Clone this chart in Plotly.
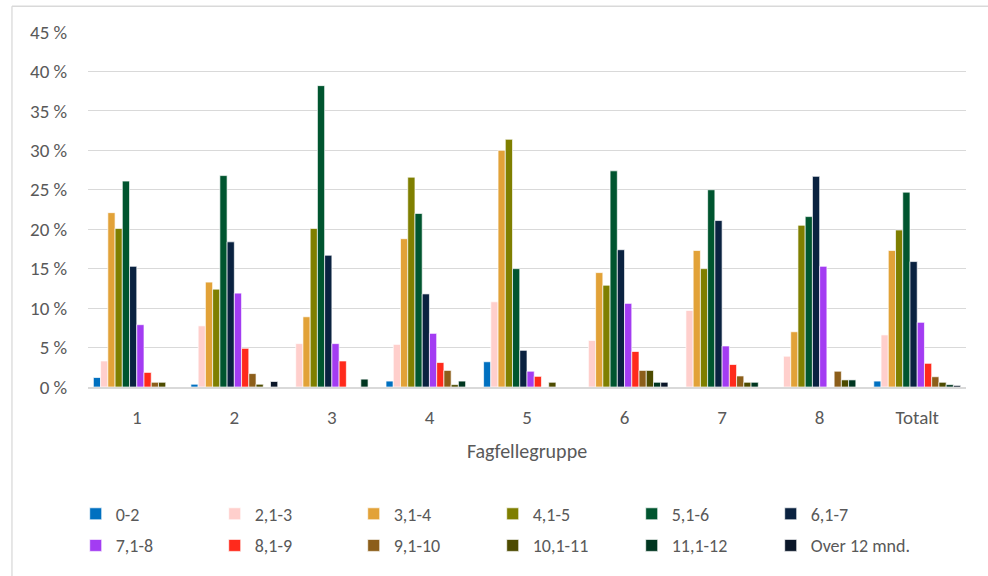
import plotly.graph_objects as go

# Peer groups on the x axis
categories = ["1", "2", "3", "4", "5", "6", "7", "8", "Totalt"]

# Duration bands (months) shown as series
series_names = ["0-2", "2,1-3", "3,1-4", "4,1-5", "5,1-6", "6,1-7",
                "7,1-8", "8,1-9", "9,1-10", "10,1-11", "11,1-12", "Over 12 mnd."]

series_colors = ["#0070C0", "#FFCFCC", "#E2A238", "#7F7F00", "#00552F", "#0A2240",
                 "#A33CF2", "#FF2A1C", "#8C5E1A", "#4D4B00", "#003620", "#0B1729"]

# Share (%) per duration band, one list per band, in category order
v_0_2 = [1.2, 0.35, 0.0, 0.75, 3.2, 0.0, 0.0, 0.0, 0.75]
v_2_3 = [3.3, 7.75, 5.5, 5.4, 10.8, 5.9, 9.7, 3.9, 6.6]
v_3_4 = [22.1, 13.3, 8.9, 18.8, 30.0, 14.5, 17.3, 7.0, 17.3]
v_4_5 = [20.1, 12.4, 20.1, 26.6, 31.4, 12.9, 15.0, 20.5, 19.9]
v_5_6 = [26.1, 26.8, 38.2, 22.0, 15.0, 27.4, 25.0, 21.6, 24.7]
v_6_7 = [15.3, 18.4, 16.7, 11.8, 4.65, 17.4, 21.1, 26.7, 15.9]
v_7_8 = [7.9, 11.9, 5.5, 6.8, 2.0, 10.6, 5.2, 15.3, 8.2]
v_8_9 = [1.85, 4.9, 3.3, 3.1, 1.35, 4.5, 2.85, 0.0, 3.0]
v_9_10 = [0.6, 1.7, 0.0, 2.1, 0.0, 2.1, 1.4, 2.0, 1.3]
v_10_11 = [0.6, 0.35, 0.0, 0.3, 0.6, 2.1, 0.6, 0.9, 0.6]
v_11_12 = [0.0, 0.0, 1.0, 0.75, 0.0, 0.6, 0.6, 0.9, 0.3]
v_over_12 = [0.0, 0.7, 0.0, 0.0, 0.0, 0.6, 0.0, 0.0, 0.2]

series_values = [v_0_2, v_2_3, v_3_4, v_4_5, v_5_6, v_6_7,
                 v_7_8, v_8_9, v_9_10, v_10_11, v_11_12, v_over_12]

y_ticks = [0, 5, 10, 15, 20, 25, 30, 35, 40, 45]
y_tick_labels = [f"{v} %" for v in y_ticks]

FONT = "Calibri, Carlito, Lato, 'Liberation Sans', sans-serif"
TEXT = "#595959"
GRID = "#D9D9D9"

fig = go.Figure()
for i, (name, vals, col) in enumerate(zip(series_names, series_values, series_colors)):
    fig.add_trace(go.Bar(
        x=categories, y=vals, name=name,
        marker=dict(color=col, line=dict(color="rgba(255,255,255,0.85)", width=0.8)),
        legend="legend" if i < 6 else "legend2",
    ))

legend_common = dict(
    orientation="h", xanchor="left", yanchor="middle",
    font=dict(family=FONT, size=18, color=TEXT),
    entrywidth=94, itemwidth=30, bgcolor="rgba(0,0,0,0)",
)

fig.update_layout(
    width=988, height=576,
    margin=dict(l=88, r=22, t=32, b=186),
    paper_bgcolor="white", plot_bgcolor="white",
    barmode="group", bargap=0.11, bargroupgap=0.0,
    font=dict(family=FONT, color=TEXT, size=18),
    xaxis=dict(
        categoryorder="array", categoryarray=categories,
        showgrid=False, showline=True, linecolor=GRID, linewidth=1.5,
        ticks="outside", ticklen=12, tickcolor="rgba(0,0,0,0)",
        tickfont=dict(family=FONT, size=19, color=TEXT),
        title=dict(text="Fagfellegruppe", font=dict(family=FONT, size=20, color=TEXT), standoff=16),
        fixedrange=True,
    ),
    yaxis=dict(
        range=[0, 45], tickmode="array", tickvals=y_ticks, ticktext=y_tick_labels,
        showgrid=True, gridcolor=GRID, gridwidth=1.3,
        zeroline=False, showline=False,
        ticks="outside", ticklen=16, tickcolor="rgba(0,0,0,0)",
        tickfont=dict(family=FONT, size=19, color=TEXT),
        fixedrange=True,
    ),
    legend=dict(x=-0.014, y=-0.358, **legend_common),
    legend2=dict(x=-0.014, y=-0.447, **legend_common),
    showlegend=True,
    shapes=[
        # chart-area frame (left and top edges)
        dict(type="line", xref="paper", yref="paper", x0=-0.0866, x1=-0.0866,
             y0=1.0726, y1=-0.6, line=dict(color=GRID, width=1.3)),
        dict(type="line", xref="paper", yref="paper", x0=-0.0866, x1=1.1,
             y0=1.0726, y1=1.0726, line=dict(color=GRID, width=1.3)),
    ],
)

fig.write_html("out.html")
